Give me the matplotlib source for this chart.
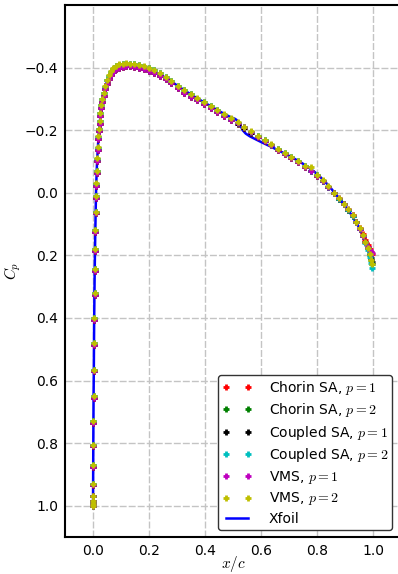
import numpy as np
import matplotlib
matplotlib.use("Agg")
import matplotlib.pyplot as plt

plt.rcParams['mathtext.fontset'] = 'cm'
plt.rcParams['font.family'] = 'DejaVu Sans'

# ---------------------------------------------------------------------------
# data: pressure coefficient along the surface
# ---------------------------------------------------------------------------
x_cfd = [0.0000, 0.0000, 0.0001, 0.0002, 0.0004, 0.0007, 0.0011, 0.0016, 0.0022, 0.0029,
         0.0036, 0.0044, 0.0053, 0.0062, 0.0072, 0.0082, 0.0093, 0.0105, 0.0118, 0.0132,
         0.0148, 0.0166, 0.0186, 0.0208, 0.0233, 0.0262, 0.0295, 0.0333, 0.0378, 0.0430,
         0.0490, 0.0560, 0.0640, 0.0730, 0.0830, 0.0940, 0.1060, 0.1190, 0.1330, 0.1480,
         0.1640, 0.1810, 0.1990, 0.2180, 0.2380, 0.2590, 0.2800, 0.3020, 0.3250, 0.3480,
         0.3720, 0.3960, 0.4200, 0.4440, 0.4680, 0.4920, 0.5160, 0.5400, 0.5640, 0.5880,
         0.6120, 0.6360, 0.6600, 0.6840, 0.7080, 0.7320, 0.7560, 0.7780, 0.8000, 0.8200,
         0.8400, 0.8600, 0.8780, 0.8950, 0.9110, 0.9260, 0.9400, 0.9520, 0.9630, 0.9720,
         0.9800, 0.9870, 0.9930, 0.9970]

cp_chorin_p1 = [1.000, 0.995, 0.985, 0.970, 0.933, 0.875, 0.810, 0.736, 0.656, 0.571,
                0.486, 0.406, 0.326, 0.251, 0.186, 0.126, 0.066, 0.018, -0.022, -0.062,
                -0.101, -0.136, -0.171, -0.196, -0.221, -0.246, -0.270, -0.290, -0.310, -0.330,
                -0.349, -0.364, -0.377, -0.387, -0.395, -0.400, -0.403, -0.404, -0.404, -0.402,
                -0.399, -0.395, -0.390, -0.383, -0.374, -0.363, -0.350, -0.334, -0.320, -0.307,
                -0.295, -0.283, -0.271, -0.258, -0.245, -0.232, -0.220, -0.206, -0.192, -0.177,
                -0.164, -0.151, -0.137, -0.124, -0.111, -0.098, -0.083, -0.068, -0.053, -0.036,
                -0.017, 0.002, 0.020, 0.037, 0.054, 0.072, 0.092, 0.112, 0.132, 0.152,
                0.168, 0.181, 0.190, 0.196]

cp_chorin_p2 = [1.000, 0.995, 0.985, 0.970, 0.930, 0.870, 0.805, 0.730, 0.650, 0.565,
                0.480, 0.400, 0.320, 0.245, 0.180, 0.120, 0.060, 0.011, -0.029, -0.069,
                -0.109, -0.144, -0.179, -0.204, -0.229, -0.254, -0.279, -0.299, -0.319, -0.339,
                -0.359, -0.374, -0.387, -0.397, -0.404, -0.409, -0.412, -0.413, -0.412, -0.410,
                -0.407, -0.403, -0.398, -0.391, -0.382, -0.370, -0.356, -0.340, -0.327, -0.314,
                -0.301, -0.289, -0.276, -0.263, -0.250, -0.237, -0.224, -0.209, -0.195, -0.180,
                -0.167, -0.154, -0.140, -0.127, -0.114, -0.101, -0.086, -0.071, -0.056, -0.039,
                -0.019, 0.001, 0.019, 0.036, 0.054, 0.073, 0.094, 0.115, 0.137, 0.158,
                0.178, 0.198, 0.215, 0.229]

cp_coupled_p1 = [1.000, 0.995, 0.985, 0.970, 0.933, 0.875, 0.810, 0.736, 0.656, 0.571,
                 0.486, 0.406, 0.326, 0.251, 0.186, 0.126, 0.066, 0.018, -0.022, -0.062,
                 -0.101, -0.136, -0.171, -0.196, -0.221, -0.246, -0.270, -0.290, -0.310, -0.330,
                 -0.349, -0.364, -0.377, -0.387, -0.395, -0.400, -0.403, -0.404, -0.404, -0.402,
                 -0.399, -0.395, -0.390, -0.383, -0.374, -0.363, -0.350, -0.334, -0.320, -0.307,
                 -0.295, -0.283, -0.271, -0.258, -0.245, -0.232, -0.220, -0.206, -0.192, -0.177,
                 -0.164, -0.151, -0.137, -0.124, -0.111, -0.098, -0.083, -0.068, -0.053, -0.036,
                 -0.017, 0.002, 0.020, 0.037, 0.055, 0.074, 0.095, 0.116, 0.137, 0.158,
                 0.176, 0.194, 0.209, 0.221]

cp_coupled_p2 = [1.000, 0.995, 0.985, 0.970, 0.930, 0.870, 0.805, 0.730, 0.650, 0.565,
                 0.480, 0.400, 0.320, 0.245, 0.180, 0.120, 0.060, 0.011, -0.029, -0.069,
                 -0.109, -0.144, -0.179, -0.204, -0.229, -0.254, -0.279, -0.299, -0.319, -0.339,
                 -0.359, -0.374, -0.387, -0.397, -0.404, -0.409, -0.412, -0.413, -0.412, -0.410,
                 -0.407, -0.403, -0.398, -0.391, -0.382, -0.370, -0.356, -0.340, -0.327, -0.314,
                 -0.301, -0.289, -0.276, -0.263, -0.250, -0.237, -0.224, -0.209, -0.195, -0.180,
                 -0.167, -0.154, -0.140, -0.127, -0.114, -0.101, -0.086, -0.071, -0.056, -0.039,
                 -0.019, 0.001, 0.019, 0.036, 0.054, 0.073, 0.094, 0.116, 0.139, 0.161,
                 0.183, 0.204, 0.224, 0.240]

cp_vms_p1 = [1.000, 0.995, 0.985, 0.970, 0.933, 0.875, 0.810, 0.736, 0.656, 0.571,
             0.486, 0.406, 0.326, 0.251, 0.186, 0.126, 0.066, 0.018, -0.022, -0.062,
             -0.101, -0.136, -0.171, -0.196, -0.221, -0.246, -0.270, -0.290, -0.310, -0.330,
             -0.349, -0.364, -0.377, -0.387, -0.395, -0.400, -0.403, -0.404, -0.404, -0.402,
             -0.399, -0.395, -0.390, -0.383, -0.374, -0.363, -0.350, -0.334, -0.320, -0.307,
             -0.295, -0.283, -0.271, -0.258, -0.245, -0.232, -0.222, -0.210, -0.195, -0.179,
             -0.164, -0.151, -0.137, -0.124, -0.111, -0.098, -0.083, -0.068, -0.053, -0.036,
             -0.018, 0.000, 0.018, 0.035, 0.053, 0.072, 0.094, 0.116, 0.138, 0.158,
             0.172, 0.182, 0.188, 0.192]

cp_vms_p2 = [1.000, 0.995, 0.985, 0.970, 0.930, 0.870, 0.805, 0.730, 0.650, 0.565,
             0.480, 0.400, 0.320, 0.245, 0.180, 0.120, 0.060, 0.010, -0.030, -0.070,
             -0.110, -0.145, -0.180, -0.205, -0.230, -0.255, -0.280, -0.300, -0.320, -0.340,
             -0.360, -0.375, -0.388, -0.398, -0.405, -0.410, -0.413, -0.414, -0.413, -0.411,
             -0.408, -0.404, -0.399, -0.392, -0.383, -0.371, -0.357, -0.341, -0.328, -0.315,
             -0.302, -0.290, -0.277, -0.264, -0.251, -0.238, -0.225, -0.210, -0.196, -0.181,
             -0.168, -0.155, -0.141, -0.128, -0.115, -0.102, -0.087, -0.082, -0.057, -0.040,
             -0.020, 0.000, 0.018, 0.035, 0.053, 0.072, 0.093, 0.114, 0.136, 0.157,
             0.177, 0.197, 0.214, 0.228]

x_xfoil = [0.000, 0.0005, 0.001, 0.002, 0.003, 0.004, 0.005, 0.006, 0.0075, 0.009,
           0.0105, 0.012, 0.014, 0.017, 0.020, 0.024, 0.029, 0.035, 0.043, 0.052,
           0.063, 0.076, 0.090, 0.105, 0.120, 0.140, 0.170, 0.200, 0.240, 0.280,
           0.320, 0.360, 0.400, 0.440, 0.470, 0.490, 0.505, 0.515, 0.525, 0.535,
           0.545, 0.560, 0.580, 0.600, 0.640, 0.680, 0.720, 0.760, 0.800, 0.840,
           0.880, 0.920, 0.950, 0.970, 0.985, 0.995, 1.000]
cp_xfoil = [0.995, 0.90, 0.80, 0.65, 0.55, 0.42, 0.33, 0.25, 0.16, 0.08,
            0.01, -0.04, -0.09, -0.14, -0.185, -0.225, -0.265, -0.300, -0.335, -0.362,
            -0.383, -0.398, -0.406, -0.410, -0.411, -0.410, -0.404, -0.395, -0.378, -0.355,
            -0.331, -0.308, -0.287, -0.266, -0.251, -0.242, -0.237, -0.231, -0.216, -0.199,
            -0.189, -0.180, -0.171, -0.162, -0.145, -0.127, -0.108, -0.087, -0.060, -0.024,
            0.020, 0.068, 0.112, 0.152, 0.185, 0.205, 0.215]

series = [
    (cp_chorin_p1, 'r', r'Chorin SA, $p=1$'),
    (cp_chorin_p2, 'g', r'Chorin SA, $p=2$'),
    (cp_coupled_p1, 'k', r'Coupled SA, $p=1$'),
    (cp_coupled_p2, 'c', r'Coupled SA, $p=2$'),
    (cp_vms_p1, 'm', r'VMS, $p=1$'),
    (cp_vms_p2, 'y', r'VMS, $p=2$'),
]

# ---------------------------------------------------------------------------
# plot
# ---------------------------------------------------------------------------
fig = plt.figure(figsize=(3.98, 5.74), dpi=100)
ax = fig.add_axes([0.1633, 0.0645, 0.845, 0.9268])

xf, = ax.plot(x_xfoil, cp_xfoil, '-', color='b', lw=1.8, label='Xfoil', zorder=2)
handles = []
for cp, col, lab in series:
    h, = ax.plot(x_cfd, cp, '+', color=col, ms=5, mew=2.0, label=lab, zorder=3)
    handles.append(h)
handles.append(xf)

ax.set_xlim(-0.1, 1.1)
ax.set_ylim(1.1, -0.6)
ax.set_xticks([0.0, 0.2, 0.4, 0.6, 0.8, 1.0])
ax.set_yticks([-0.4, -0.2, 0.0, 0.2, 0.4, 0.6, 0.8, 1.0])
ax.set_xticklabels(['0.0', '0.2', '0.4', '0.6', '0.8', '1.0'])
ax.set_yticklabels(['\u22120.4', '\u22120.2', '0.0', '0.2', '0.4', '0.6', '0.8', '1.0'])
ax.tick_params(direction='in', length=0, labelsize=10, pad=5)
ax.grid(True, color='#c4c4c4', linestyle=(0, (5, 1.5)), lw=1)
ax.set_axisbelow(True)
for s in ax.spines.values():
    s.set_linewidth(1.5)

ax.set_xlabel('$x/c$', fontsize=11)
ax.set_ylabel('$C_p$', fontsize=11)
ax.xaxis.set_label_coords(0.5, -0.032)
ax.yaxis.set_label_coords(-0.125, 0.5)

leg = ax.legend(handles, [h.get_label() for h in handles],
                loc='lower right', bbox_to_anchor=(0.972, 0.014), borderaxespad=0,
                numpoints=2, fontsize=10, fancybox=True, framealpha=1,
                edgecolor='#333333', handlelength=2.2, handletextpad=1.2,
                labelspacing=0.33, borderpad=0.25, markerscale=0.75)
leg.get_frame().set_linewidth(1.0)

fig.savefig('out.png', dpi=100)
